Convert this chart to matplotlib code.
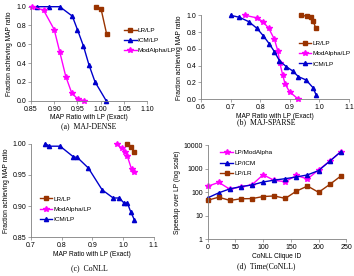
import matplotlib
matplotlib.use('Agg')
import matplotlib.pyplot as plt

plt.rcParams['font.family'] = ['Liberation Sans', 'DejaVu Sans']

# -----------------------------
# (a) MAJ-DENSE
# -----------------------------
a_lr_x = [0.990, 1.001, 1.013]
a_lr_y = [1.0, 0.975, 0.71]
a_icm_x = [0.863, 0.888, 0.912, 0.939, 0.950, 0.963, 0.975, 0.988, 1.012]
a_icm_y = [1.0, 1.0, 1.0, 0.90, 0.757, 0.582, 0.38, 0.20, 0.0]
a_mod_x = [0.852, 0.877, 0.900, 0.912, 0.925, 0.938, 0.951, 0.965]
a_mod_y = [1.0, 0.964, 0.757, 0.518, 0.257, 0.079, 0.018, 0.0]

# -----------------------------
# (b) MAJ-SPARSE
# -----------------------------
b_lr_x = [0.938, 0.958, 0.970, 0.978, 0.988]
b_lr_y = [1.0, 0.99, 0.976, 0.937, 0.845]
b_mod_x = [0.749, 0.790, 0.809, 0.829, 0.848, 0.860, 0.866, 0.876, 0.884, 0.899, 0.929]
b_mod_y = [1.0, 0.968, 0.925, 0.845, 0.714, 0.571, 0.437, 0.29, 0.183, 0.091, 0.0]
b_icm_x = [0.70, 0.730, 0.761, 0.789, 0.811, 0.831, 0.848, 0.865, 0.888, 0.910, 0.929, 0.955, 0.978, 0.989]
b_icm_y = [1.0, 0.976, 0.925, 0.845, 0.754, 0.659, 0.567, 0.46, 0.389, 0.337, 0.27, 0.23, 0.14, 0.052]

# -----------------------------
# (c) CoNLL
# -----------------------------
c_lr_x = [1.012, 1.025, 1.037]
c_lr_y = [1.0, 0.995, 0.987]
c_mod_x = [0.979, 0.996, 1.007, 1.014, 1.028, 1.037]
c_mod_y = [1.0, 0.993, 0.987, 0.980, 0.959, 0.954]
c_icm_x = [0.747, 0.760, 0.795, 0.838, 0.851, 0.887, 0.932, 0.968, 0.988, 1.003, 1.014, 1.025, 1.037]
c_icm_y = [1.0, 0.996, 0.996, 0.979, 0.978, 0.961, 0.926, 0.913, 0.913, 0.905, 0.905, 0.891, 0.878]

# -----------------------------
# (d) Time(CoNLL)
# -----------------------------
d_ids = [0, 20, 40, 60, 80, 100, 120, 140, 160, 180, 200, 220, 240]
d_mod = [180, 265, 135, 172, 210, 560, 320, 285, 520, 370, 900, 2100, 5300]
d_icm = [58, 95, 140, 175, 205, 275, 330, 380, 450, 550, 840, 2100, 5300]
d_lr = [46, 62, 45, 53, 54, 66, 70, 55, 112, 185, 100, 215, 490]

C_LR = '#993300'
C_ICM = '#0000cc'
C_MOD = '#ff00ff'
FS_TICK = 5.0
FS_LAB = 4.8
FS_LEG = 4.6
W, H = 354.0, 276.0


def make_axes(fig, left, top, right, bottom):
    ax = fig.add_axes([left / W, 1 - bottom / H, (right - left) / W, (bottom - top) / H])
    for s in ('top', 'right'):
        ax.spines[s].set_visible(False)
    for s in ('left', 'bottom'):
        ax.spines[s].set_color('#808080')
        ax.spines[s].set_linewidth(0.6)
    ax.tick_params(labelsize=FS_TICK, length=2, width=0.5, color='#808080', pad=1.5)
    return ax


def series(ax, x, y, color, marker, label, ms=3):
    ax.plot(x, y, color=color, marker=marker, ms=ms, lw=1.0, label=label,
            clip_on=False, mec=color, mfc=color)


def legend(ax, pos):
    ax.legend(loc='upper left', bbox_to_anchor=pos, frameon=False, fontsize=FS_LEG,
              handlelength=2.0, handletextpad=0.2, labelspacing=0.75,
              borderpad=0, borderaxespad=0)


def caption(fig, x, y, text):
    fig.text(x / W, 1 - y / H, text, ha='center', va='center',
             fontsize=5.6, family=['Liberation Serif', 'DejaVu Serif'])


fig = plt.figure(figsize=(3.54, 2.76), dpi=100)

# (a)
ax = make_axes(fig, 31, 6.7, 147, 100.7)
series(ax, a_lr_x, a_lr_y, C_LR, 's', 'LR/LP')
series(ax, a_icm_x, a_icm_y, C_ICM, '^', 'ICM/LP')
series(ax, a_mod_x, a_mod_y, C_MOD, '*', 'ModAlpha/LP', ms=4)
ax.set_xlim(0.85, 1.10)
ax.set_ylim(0, 1.0)
ax.set_xticks([0.85, 0.90, 0.95, 1.00, 1.05, 1.10])
ax.set_xticklabels(['0.85', '0.90', '0.95', '1.00', '1.05', '1.10'])
ax.set_yticks([0, 0.2, 0.4, 0.6, 0.8, 1.0])
ax.set_yticklabels(['0.0', '0.2', '0.4', '0.6', '0.8', '1.0'])
ax.set_xlabel('MAP Ratio with LP (Exact)', fontsize=FS_LAB, labelpad=1)
ax.set_ylabel('Fraction achieving MAP ratio', fontsize=FS_LAB, labelpad=2)
legend(ax, (0.80, 0.78))
caption(fig, 89, 126, '(a)  MAJ-DENSE')

# (b)
ax = make_axes(fig, 201, 15.3, 349, 99.3)
series(ax, b_lr_x, b_lr_y, C_LR, 's', 'LR/LP')
series(ax, b_mod_x, b_mod_y, C_MOD, '*', 'ModAlpha/LP', ms=4)
series(ax, b_icm_x, b_icm_y, C_ICM, '^', 'ICM/LP')
ax.set_xlim(0.6, 1.1)
ax.set_ylim(0, 1.0)
ax.set_xticks([0.6, 0.7, 0.8, 0.9, 1.0, 1.1])
ax.set_xticklabels(['0.6', '0.7', '0.8', '0.9', '1.0', '1.1'])
ax.set_yticks([0, 0.2, 0.4, 0.6, 0.8, 1.0])
ax.set_yticklabels(['0.0', '0.2', '0.4', '0.6', '0.8', '1.0'])
ax.set_xlabel('MAP Ratio with LP (Exact)', fontsize=FS_LAB, labelpad=1)
ax.set_ylabel('Fraction achieving MAP ratio', fontsize=FS_LAB, labelpad=2)
legend(ax, (0.66, 0.70))
caption(fig, 266, 122, '(b)  MAJ-SPARSE')

# (c)
ax = make_axes(fig, 31, 143.7, 153.7, 237.3)
series(ax, c_lr_x, c_lr_y, C_LR, 's', 'LR/LP')
series(ax, c_mod_x, c_mod_y, C_MOD, '*', 'ModAlpha/LP', ms=4)
series(ax, c_icm_x, c_icm_y, C_ICM, '^', 'ICM/LP')
ax.set_xlim(0.7, 1.1)
ax.set_ylim(0.85, 1.0)
ax.set_xticks([0.7, 0.8, 0.9, 1.0, 1.1])
ax.set_xticklabels(['0.7', '0.8', '0.9', '1.0', '1.1'])
ax.set_yticks([0.85, 0.90, 0.95, 1.00])
ax.set_yticklabels(['0.85', '0.90', '0.95', '1.00'])
ax.set_xlabel('MAP Ratio with LP (Exact)', fontsize=FS_LAB, labelpad=1)
ax.set_ylabel('Fraction achieving MAP ratio', fontsize=FS_LAB, labelpad=2)
legend(ax, (0.07, 0.44))
caption(fig, 89, 268, '(c)  CoNLL')

# (d)
ax = make_axes(fig, 207.7, 145.3, 346.3, 239.3)
series(ax, d_ids, d_mod, C_MOD, '*', 'LP/ModAlpha', ms=4)
series(ax, d_ids, d_icm, C_ICM, '^', 'LP/ICM')
series(ax, d_ids, d_lr, C_LR, 's', 'LP/LR')
ax.set_yscale('log')
ax.set_xlim(0, 250)
ax.set_ylim(1, 10000)
ax.set_xticks([0, 50, 100, 150, 200, 250])
ax.set_yticks([1, 10, 100, 1000, 10000])
ax.set_yticklabels(['1', '10', '100', '1000', '10000'])
ax.minorticks_off()
ax.set_xlabel('CoNLL Clique ID', fontsize=FS_LAB, labelpad=1)
ax.set_ylabel('Speedup over LP (log scale)', fontsize=FS_LAB, labelpad=2)
legend(ax, (0.09, 0.95))
caption(fig, 266, 266, '(d)  Time(CoNLL)')

fig.savefig('out.png', dpi=100)
